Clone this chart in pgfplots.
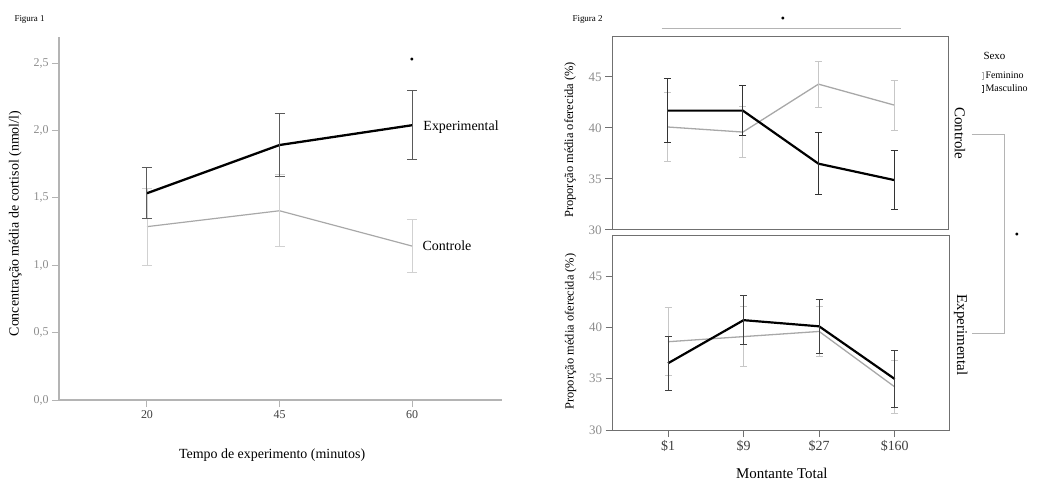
\documentclass[border=0pt]{standalone}
\usepackage{fontspec}
\setmainfont{Liberation Serif}
\usepackage{pgfplots}
\pgfplotsset{compat=1.18}
\definecolor{axgray}{HTML}{B4B4B4}
\definecolor{tickgray}{HTML}{8C8C8C}
\definecolor{sergray}{HTML}{A8A8A8}
\definecolor{errgray}{HTML}{5A5A5A}
\definecolor{boxgray}{HTML}{707070}
\begin{document}
\begin{tikzpicture}
\useasboundingbox (0,0) rectangle (1041bp,481bp);
% ---------------- Figura 1 ----------------
\node[anchor=west, font=\fontsize{9}{10}\selectfont] at (11bp,461bp) {Figura 1};
\begin{axis}[
  at={(59bp,81bp)}, anchor=south west, scale only axis,
  width=443bp, height=363bp,
  xmin=-0.664, xmax=2.679, ymin=0, ymax=2.695,
  axis lines=left, axis line style={axgray, line width=1.2pt, -},
  xtick={0,1,2}, xticklabels={20,45,60},
  ytick={0,0.5,1,1.5,2,2.5},
  tick align=outside, major tick length=7bp,
  tick style={axgray, line width=1pt},
  /pgf/number format/.cd, use comma, fixed, fixed zerofill, precision=1, assume math mode=true,
  /pgfplots/.cd,
  ticklabel style={font=\fontsize{12}{12}\selectfont, text=tickgray},
  xticklabel style={text=black!75},
  xlabel={Tempo de experimento (minutos)},
  ylabel={Concentração média de cortisol (nmol/l)},
  label style={font=\fontsize{14}{15}\selectfont},
  xlabel style={at={(axis description cs:0.481,-0.1515)}, anchor=center},
  ylabel style={at={(axis description cs:-0.099,0.486)}, anchor=center},
  clip=false,
]
\addplot[sergray, line width=1.2pt,
  error bars/.cd, y dir=both, y explicit,
  error bar style={draw=black!18, line width=0.9pt},
  error mark options={rotate=90, mark size=5bp, draw=black!18, line width=0.9pt}]
  coordinates {(0,1.287) +- (0,0.285) (1,1.405) +- (0,0.267) (2,1.143) +- (0,0.194)};
\addplot[black, line width=2.3pt,
  error bars/.cd, y dir=both, y explicit,
  error bar style={draw=errgray, line width=1pt},
  error mark options={rotate=90, mark size=5bp, draw=errgray, line width=1pt}]
  coordinates {(0,1.535) +- (0,0.188) (1,1.893) +- (0,0.236) (2,2.04) +- (0,0.255)};
\node[anchor=west, font=\fontsize{14}{15}\selectfont] at (axis cs:2.06,2.027) {Experimental};
\node[anchor=west, font=\fontsize{14}{15}\selectfont] at (axis cs:2.053,1.143) {Controle};
\node[font=\fontsize{12}{12}\selectfont] at (axis cs:2,2.52) {•};
\end{axis}
% ---------------- Figura 2 ----------------
\node[anchor=west, font=\fontsize{9}{10}\selectfont] at (569bp,461bp) {Figura 2};
\draw[axgray, line width=1pt] (661.7bp,452bp) -- (900.7bp,452bp);
\node[font=\fontsize{12}{12}\selectfont] at (783bp,461bp) {•};
\draw[axgray, line width=1pt] (971.7bp,346bp) -- (1004bp,346bp) -- (1004bp,147.7bp) -- (971.7bp,147.7bp);
\node[font=\fontsize{12}{12}\selectfont] at (1017bp,245bp) {•};
\node[anchor=west, font=\fontsize{11}{12}\selectfont] at (980bp,425bp) {Sexo};
\pgfplotsset{fig2/.style={
  anchor=south west, scale only axis, width=336.5bp,
  xmin=-0.732, xmax=3.721, ymin=30,
  axis line style={boxgray, line width=1pt},
  ytick={30,35,40,45}, ytick pos=left,
  tick align=outside, major tick length=7bp,
  tick style={boxgray, line width=1pt},
  /pgf/number format/assume math mode=true,
  ticklabel style={font=\fontsize{13}{13}\selectfont, text=tickgray},
  ylabel={Proporção média oferecida (\%)},
  label style={font=\fontsize{12.5}{13}\selectfont},
  clip=false,
}}
\begin{axis}[fig2,
  at={(612bp,251bp)}, height=193.3bp, ymax=48.95,
  xtick=\empty,
  ylabel style={at={(axis description cs:-0.125,0.466)}, anchor=center},
  legend style={at={(1.088,0.835)}, anchor=north west, draw=none, fill=none,
    font=\fontsize{10}{10}\selectfont, row sep=3bp, nodes={inner sep=1bp},
    /tikz/every even column/.append style={column sep=3bp}},
  legend cell align=left,
]
\addlegendimage{legend image code/.code={\draw[sergray, line width=0.6pt] (2bp,-3.5bp)--(2bp,3.5bp) (0.8bp,-3.5bp)--(3.2bp,-3.5bp) (0.8bp,3.5bp)--(3.2bp,3.5bp);}}
\addlegendentry{Feminino}
\addlegendimage{legend image code/.code={\draw[black!80, line width=0.8pt] (2bp,-3.5bp)--(2bp,3.5bp) (0.8bp,-3.5bp)--(3.2bp,-3.5bp) (0.8bp,3.5bp)--(3.2bp,3.5bp);}}
\addlegendentry{Masculino}
\addplot[sergray, line width=1.3pt, forget plot,
  error bars/.cd, y dir=both, y explicit,
  error bar style={draw=black!22, line width=0.9pt},
  error mark options={rotate=90, mark size=3.5bp, draw=black!22, line width=0.9pt}]
  coordinates {(0,40.1) +- (0,3.4) (1,39.6) +- (0,2.5) (2,44.3) +- (0,2.25) (3,42.25) +- (0,2.45)};
\addplot[black, line width=2.2pt, forget plot,
  error bars/.cd, y dir=both, y explicit,
  error bar style={draw=black!80, line width=0.9pt},
  error mark options={rotate=90, mark size=3.5bp, draw=black!80, line width=0.9pt}]
  coordinates {(0,41.7) +- (0,3.15) (1,41.7) +- (0,2.45) (2,36.5) +- (0,3.05) (3,34.9) +- (0,2.9)};
\node[rotate=-90, font=\fontsize{15}{16}\selectfont] at (axis description cs:1.034,0.5) {Controle};
\end{axis}
\begin{axis}[fig2,
  at={(612.7bp,51bp)}, height=194bp, ymax=48.9,
  xtick={0,1,2,3}, xticklabels={\$1,\$9,\$27,\$160}, xtick pos=left,
  xticklabel style={text=black!75, font=\fontsize{14}{14}\selectfont},
  xlabel={Montante Total},
  xlabel style={at={(axis description cs:0.5025,-0.222)}, anchor=center, font=\fontsize{15}{16}\selectfont},
  ylabel style={at={(axis description cs:-0.125,0.507)}, anchor=center},
]
\addplot[sergray, line width=1.3pt,
  error bars/.cd, y dir=both, y explicit,
  error bar style={draw=black!22, line width=0.9pt},
  error mark options={rotate=90, mark size=3.5bp, draw=black!22, line width=0.9pt}]
  coordinates {(0,38.6) +- (0,3.3) (1,39.1) +- (0,2.9) (2,39.6) +- (0,2.4) (3,34.2) +- (0,2.6)};
\addplot[black, line width=2.2pt,
  error bars/.cd, y dir=both, y explicit,
  error bar style={draw=black!75, line width=0.9pt},
  error mark options={rotate=90, mark size=3.5bp, draw=black!75, line width=0.9pt}]
  coordinates {(0,36.5) +- (0,2.65) (1,40.7) +- (0,2.4) (2,40.1) +- (0,2.65) (3,34.97) +- (0,2.75)};
\node[rotate=-90, font=\fontsize{15}{16}\selectfont] at (axis description cs:1.034,0.49) {Experimental};
\end{axis}
\end{tikzpicture}
\end{document}
